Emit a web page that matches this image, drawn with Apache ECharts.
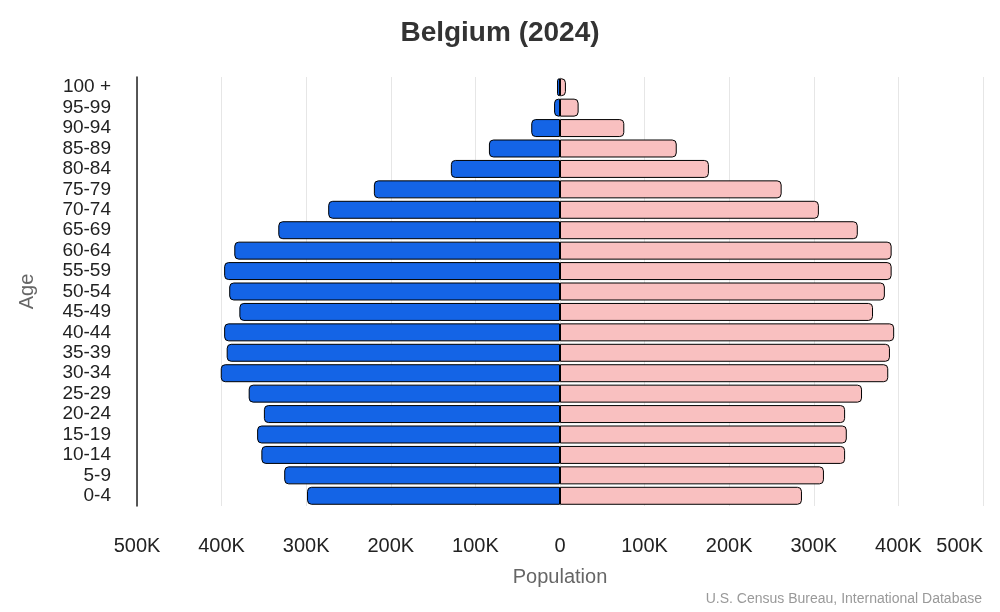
<!DOCTYPE html>
<html><head><meta charset="utf-8">
<script src="https://cdn.jsdelivr.net/npm/echarts@6/dist/echarts.min.js"></script>
<style>html,body{margin:0;padding:0;background:#fff}#c{width:1000px;height:612px}</style>
</head><body><div id="c"></div>
<script>
const categories = ['0-4','5-9','10-14','15-19','20-24','25-29','30-34','35-39','40-44','45-49','50-54','55-59','60-64','65-69','70-74','75-79','80-84','85-89','90-94','95-99','100 +'];
const male = [299,326,353,358,350,368,401,394,397,379,391,397,385,333,274,220,129,84,34,7,3.5];
const female = [286,312,337,339,337,357,388,390,395,370,384,392,392,352,306,262,176,138,76,22,7];
const tickLabels = {'-500000':'500K','-400000':'400K','-300000':'300K','-200000':'200K','-100000':'100K','0':'0','100000':'100K','200000':'200K','300000':'300K','400000':'400K','500000':'500K'};
const chart = echarts.init(document.getElementById('c'));
const ff = '"Liberation Sans", Arial, sans-serif';
chart.setOption({
  animation:false,
  title:{text:'Belgium (2024)',left:'center',top:14,textStyle:{fontFamily:ff,fontSize:28,fontWeight:'bold',color:'#333'}},
  graphic:[{type:'text',right:18,bottom:6,style:{text:'U.S. Census Bureau, International Database',fill:'#999',font:'14px '+ff}}],
  grid:{left:137,right:17,top:77,bottom:106,outerBoundsMode:'none',containLabel:false},
  xAxis:{type:'value',min:-500000,max:500000,interval:100000,
    name:'Population',nameLocation:'middle',nameGap:61,nameTextStyle:{fontFamily:ff,fontSize:20,color:'#666'},
    axisLine:{show:false},axisTick:{show:false},
    splitLine:{lineStyle:{color:'#e6e6e6'}},
    axisLabel:{margin:30,fontFamily:ff,fontSize:20,color:'#222',formatter:v=>tickLabels[String(v)],
      alignMaxLabel:'right'}},
  yAxis:{type:'category',data:categories,
    name:'Age',nameLocation:'middle',nameGap:100,nameTextStyle:{fontFamily:ff,fontSize:20,color:'#666'},
    axisLine:{onZero:false,lineStyle:{color:'#222',width:1.5}},axisTick:{show:false},
    axisLabel:{interval:0,margin:26,fontFamily:ff,fontSize:19,color:'#222'}},
  series:[
    {type:'bar',stack:'a',barWidth:'88%',data:male.map(v=>-v*1000),
     itemStyle:{color:'#1464e6',borderColor:'#000',borderWidth:1,borderRadius:[4,0,0,4]}},
    {type:'bar',stack:'a',barWidth:'88%',data:female.map(v=>v*1000),
     itemStyle:{color:'#f9c0c0',borderColor:'#000',borderWidth:1,borderRadius:[0,4,4,0]}}
  ]
});
</script></body></html>
